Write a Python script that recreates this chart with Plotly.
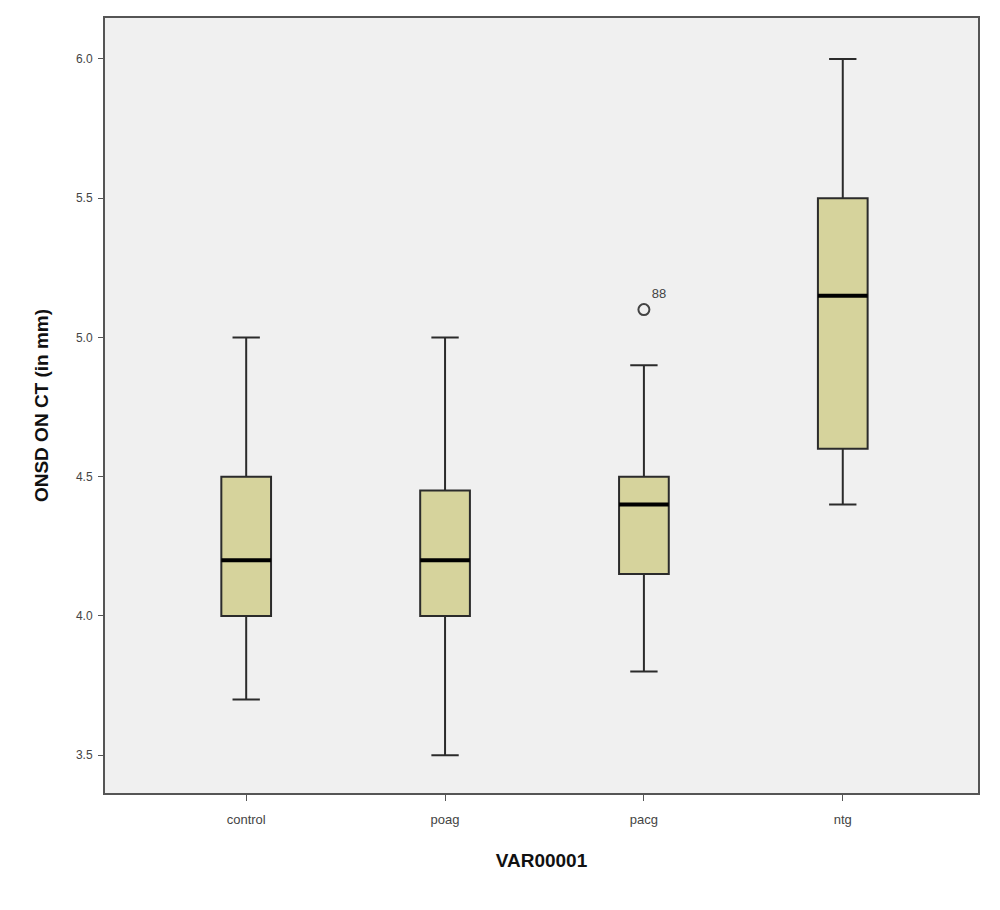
import plotly.graph_objects as go

# Summary statistics
groups = ['control', 'poag', 'pacg', 'ntg']
lower = [3.7, 3.5, 3.8, 4.4]
q1 = [4.0, 4.0, 4.15, 4.6]
median = [4.2, 4.2, 4.4, 5.15]
q3 = [4.5, 4.45, 4.5, 5.5]
upper = [5.0, 5.0, 4.9, 6.0]

# outliers: (group index, value, case label)
out_group = [2]
out_value = [5.1]
out_label = ['88']

pos = list(range(len(groups)))
box_w = 0.25

fig = go.Figure()
fig.add_trace(go.Box(
    x=pos, q1=q1, median=median, q3=q3,
    lowerfence=lower, upperfence=upper,
    width=box_w, whiskerwidth=0.55,
    fillcolor='#d6d39c', line=dict(color='#2b2b2b', width=2),
    boxpoints=False, showlegend=False, hoverinfo='skip'
))

# thick median bars, like SPSS draws them
for i, m in zip(pos, median):
    fig.add_trace(go.Scatter(
        x=[i - box_w / 2, i + box_w / 2], y=[m, m], mode='lines',
        line=dict(color='black', width=4), showlegend=False, hoverinfo='skip'
    ))

fig.add_trace(go.Scatter(
    x=out_group, y=out_value, mode='markers+text', text=out_label,
    textposition='top right', textfont=dict(size=13, color='#444'),
    marker=dict(symbol='circle-open', size=11, color='#444', line=dict(width=2)),
    showlegend=False, hoverinfo='skip'
))

fig.update_layout(
    width=1000, height=910,
    margin=dict(l=97, r=30, t=8, b=125),
    paper_bgcolor='white', plot_bgcolor='#f0f0f0',
    font=dict(family='Liberation Sans, Arial', color='#333'),
)
fig.update_xaxes(
    range=[-0.71, 3.68], tickvals=pos, ticktext=groups,
    showgrid=False, zeroline=False,
    showline=True, linecolor='#555', linewidth=2, mirror=True,
    ticks='outside', ticklen=6, tickcolor='#555', ticklabelstandoff=7,
    tickfont=dict(size=13, color='#444'),
    title=dict(text='<b>VAR00001</b>', font=dict(size=19, color='#111'), standoff=28),
)
fig.update_yaxes(
    range=[3.364, 6.147], tickvals=[3.5, 4.0, 4.5, 5.0, 5.5, 6.0],
    tickformat='.1f', showgrid=False, zeroline=False,
    showline=True, linecolor='#555', linewidth=2, mirror=True,
    ticks='outside', ticklen=5, tickcolor='#555', ticklabelstandoff=3,
    tickfont=dict(size=12, color='#444'),
    title=dict(text='<b>ONSD ON CT (in mm)</b>', font=dict(size=19, color='#111'), standoff=22),
)

fig.write_html('out.html')
